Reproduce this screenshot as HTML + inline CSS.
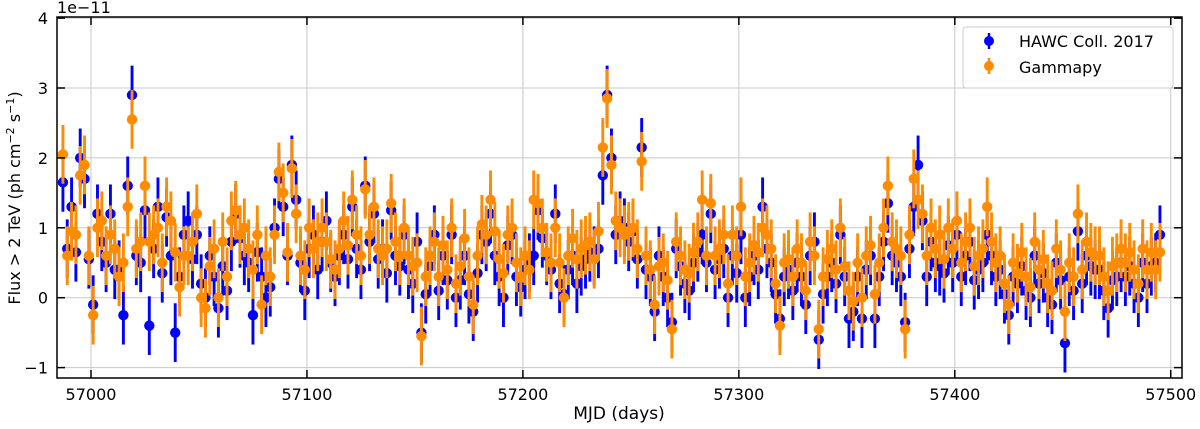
<!DOCTYPE html>
<html><head><meta charset="utf-8"><style>
body{margin:0;background:#fff;}
svg{display:block;font-family:"DejaVu Sans","Liberation Sans",sans-serif;}
</style></head><body>
<svg id="chart" width="1200" height="429" viewBox="0 0 1200 429">
<g id="grid"></g>
<g id="series"></g>
<rect x="57" y="17" width="1125" height="361" fill="none" stroke="#000" stroke-width="1.5"/>
<g id="ticks"></g>
<text x="57" y="13" font-size="16">1e−11</text>
<text x="619" y="419" font-size="17" text-anchor="middle">MJD (days)</text>
<text transform="translate(20,198) rotate(-90)" font-size="16" text-anchor="middle">Flux &gt; 2 TeV (ph cm<tspan dy="-6" font-size="11">−2</tspan><tspan dy="6"> s</tspan><tspan dy="-6" font-size="11">−1</tspan><tspan dy="6">)</tspan></text>
<g>
<rect x="963" y="27" width="210" height="61" rx="3" fill="#fff" fill-opacity="0.85" stroke="#ccc"/>
<g>
<line x1="989" y1="33" x2="989" y2="49" stroke="#0000ff" stroke-width="2.5"/><circle cx="989" cy="41" r="5" fill="#0000ff"/>
<text x="1019" y="47" font-size="16">HAWC Coll. 2017</text></g>
<g>
<line x1="989" y1="58" x2="989" y2="74" stroke="#ff8c00" stroke-width="2.5"/><circle cx="989" cy="66" r="5" fill="#ff8c00"/>
<text x="1019" y="73" font-size="16">Gammapy</text></g>
</g>
</svg>
<script>
const startDay = 56987;
const dayStep = 2;
const hawcFlux = [
1.65,0.7,1.3,0.65,2.0, 1.7,0.55,-0.1,1.2,0.8, 0.5,1.2,0.4,0.4,-0.25, 1.6,2.9,0.6,0.5,1.25,
-0.4,0.7,1.3,0.35,1.15, 0.6,-0.5,0.3,0.9,1.1, 0.55,0.9,0.2,0.0,0.6, 0.3,-0.15,0.45,0.1,0.8,
1.2,0.85,0.6,0.5,-0.25, 0.65,0.3,0.0,0.15,1.0, 1.7,1.3,0.6,1.9,1.4, 0.5,0.1,0.7,0.9,0.4,
0.8,1.1,0.5,0.3,0.6, 0.9,0.55,1.3,0.7,0.4, 1.6,0.8,1.2,0.55,0.7, 0.35,1.25,0.6,0.45,0.9,
0.4,0.2,0.8,-0.5,0.05, 0.45,0.9,0.1,0.6,0.25, 0.9,0.0,0.25,0.6,0.05, -0.2,0.35,0.9,0.8,1.2,
0.6,0.3,0.0,0.75,0.9, 0.3,0.15,0.4,0.5,0.6, 1.25,0.85,0.6,0.4,1.2, 0.2,0.05,0.4,0.6,0.2,
0.45,0.55,0.65,0.6,0.7, 1.75,2.9,2.0,0.9,1.1, 1.0,0.8,0.95,0.55,2.15, 0.4,0.3,-0.2,0.6,0.3,
0.0,-0.35,0.7,0.45,0.2, 0.1,0.5,0.65,0.9,0.5, 1.2,0.4,0.55,0.7,0.0, 0.6,0.35,0.9,0.0,0.3,
0.6,0.4,1.3,0.7,0.5, 0.05,-0.3,0.3,0.4,0.1, 0.5,0.3,-0.1,0.6,0.8, -0.6,0.05,0.3,0.5,0.2,
0.9,0.3,-0.3,-0.2,0.3, -0.3,0.4,0.6,-0.3,0.3, 0.8,1.35,0.6,0.5,0.3, -0.35,0.7,1.3,1.9,1.1,
0.3,0.8,0.5,0.45,0.35, 0.75,0.5,0.9,0.3,0.6, 0.8,0.25,0.4,0.5,0.9, 0.6,0.3,0.4,0.05,-0.25,
0.3,0.2,0.45,0.1,0.0, 0.6,0.2,0.35,0.0,-0.1, 0.5,0.25,-0.65,0.3,0.1, 0.95,0.2,0.6,0.45,0.4,
0.4,0.1,-0.15,0.25,0.3, 0.5,0.3,0.45,0.2,0.0, 0.5,0.2,0.45,0.5,0.9
];
const gammapyFlux = [
2.05,0.6,0.95,0.9,1.75, 1.9,0.6,-0.25,1.0,1.1, 0.6,0.9,0.7,0.3,0.5, 1.3,2.55,0.7,0.8,1.6,
0.8,0.9,1.0,0.5,1.3, 1.1,0.65,0.15,0.6,0.6, 0.8,1.2,0.0,-0.15,0.45, 0.7,0.0,0.8,0.3,1.1,
1.25,0.9,1.0,0.7,0.4, 0.9,-0.1,0.6,0.3,0.9, 1.8,1.5,0.65,1.85,1.2, 0.6,0.4,1.0,0.7,0.8,
1.0,0.8,0.55,0.4,0.7, 1.1,0.75,1.4,0.9,0.6, 1.55,0.9,1.3,0.7,0.6, 0.7,1.35,0.8,0.6,1.0,
0.6,0.45,0.5,-0.55,0.3, 0.6,0.8,0.3,0.75,0.4, 1.0,0.2,0.45,0.85,0.3, -0.1,0.6,1.05,0.9,1.4,
0.95,0.55,0.35,0.9,1.0, 0.5,0.3,0.6,0.4,1.4, 1.35,1.0,0.65,0.5,1.0, 0.5,0.0,0.6,0.85,0.55,
0.7,0.75,0.8,0.55,0.95, 2.15,2.85,1.9,1.1,1.0, 0.9,0.95,1.0,0.7,1.95, 0.6,0.4,-0.1,0.45,0.5,
0.25,-0.45,0.8,0.6,0.4, 0.35,0.65,0.8,1.4,0.6, 1.35,0.6,0.7,0.9,0.2, 0.9,0.6,1.3,0.3,0.5,
0.75,0.65,1.0,0.9,0.7, 0.2,-0.4,0.5,0.55,0.3, 0.7,0.5,0.1,0.8,0.6, -0.45,0.3,0.55,0.7,0.4,
1.0,0.45,0.1,-0.05,0.5, 0.0,0.6,0.75,0.05,0.5, 1.0,1.6,0.8,0.7,0.6, -0.45,0.9,1.7,1.4,1.2,
0.6,1.0,0.7,0.9,0.55, 1.0,0.7,1.1,0.5,0.8, 1.0,0.45,0.6,0.7,1.3, 0.8,0.5,0.6,0.2,-0.1,
0.5,0.35,0.65,0.3,0.15, 0.8,0.4,0.55,0.2,0.1, 0.7,0.4,-0.2,0.5,0.3, 1.2,0.4,0.8,0.65,0.6,
0.6,0.3,0.1,0.45,0.5, 0.7,0.5,0.65,0.4,0.2, 0.7,0.4,0.65,0.4,0.65
];
const hawcErr = 0.42;
const gammapyErr = 0.42;
const xTicks = [57000,57100,57200,57300,57400,57500];
const yTicks = [-1,0,1,2,3,4];

const NS='http://www.w3.org/2000/svg';
const X0=57,X1=1182,Y0=17,Y1=378;
function xs(d){return 91+(d-57000)*2.1595;}
function ys(v){return 297.7-69.9*v;}
function mk(tag,attrs,parent){const e=document.createElementNS(NS,tag);for(const k in attrs)e.setAttribute(k,attrs[k]);parent.appendChild(e);return e;}
const grid=document.getElementById('grid'),ticks=document.getElementById('ticks'),series=document.getElementById('series');
xTicks.forEach(t=>{const x=xs(t);
  const g=mk('line',{x1:x,x2:x,y1:Y0,y2:Y1,stroke:'#c8c8c8','stroke-width':1},grid);
  
  
  mk('line',{x1:x,x2:x,y1:Y1,y2:Y1-8,stroke:'#000','stroke-width':1.5},ticks);
  mk('line',{x1:x,x2:x,y1:Y0,y2:Y0+8,stroke:'#000','stroke-width':1.5},ticks);
  const l=mk('text',{x:x,y:400,'font-size':16,'text-anchor':'middle'},ticks);l.textContent=t;
  
  
});
yTicks.forEach(t=>{const y=ys(t);
  const g=mk('line',{x1:X0,x2:X1,y1:y,y2:y,stroke:'#c8c8c8','stroke-width':1},grid);
  
  
  mk('line',{x1:X0,x2:X0+8,y1:y,y2:y,stroke:'#000','stroke-width':1.5},ticks);
  mk('line',{x1:X1,x2:X1-8,y1:y,y2:y,stroke:'#000','stroke-width':1.5},ticks);
  const l=mk('text',{x:48,y:y+6,'font-size':16,'text-anchor':'end'},ticks);l.textContent=(t<0?'−'+(-t):t);
  
  
});
function drawSeries(vals,err,color,name){
  const g=mk('g',{},series);
  
  
  vals.forEach((v,i)=>{const x=xs(startDay+i*dayStep);
    const eb=mk('line',{x1:x,x2:x,y1:ys(v+err),y2:ys(v-err),stroke:color,'stroke-width':2.9},g);
    
    
  });
  vals.forEach((v,i)=>{const x=xs(startDay+i*dayStep);
    const c=mk('circle',{cx:x,cy:ys(v),r:5.2,fill:color},g);
    
    
  });
}
drawSeries(hawcFlux,hawcErr,'#0000ff','hawc-series');
drawSeries(gammapyFlux,gammapyErr,'#ff8c00','gammapy-series');
</script>
</body></html>
